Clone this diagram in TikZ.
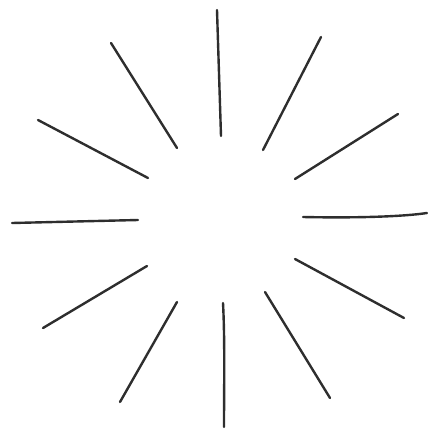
\documentclass[tikz,border=0pt]{standalone}
\begin{document}
\begin{tikzpicture}[x=1pt,y=-1pt,
  ray/.style={draw=black!82, line width=2.4pt, line cap=round}]
\useasboundingbox (0,0) rectangle (428,437);
% ray endpoints
\coordinate (a1) at (217,10);  \coordinate (b1) at (221,136);
\coordinate (a2) at (321,37);  \coordinate (b2) at (263,150);
\coordinate (a3) at (398,114); \coordinate (b3) at (295,179);
\coordinate (a4) at (303,217); \coordinate (b4) at (427,213);
\coordinate (a5) at (295,259); \coordinate (b5) at (404,318);
\coordinate (a6) at (265,292); \coordinate (b6) at (330,398);
\coordinate (a7) at (223,303); \coordinate (b7) at (224,427);
\coordinate (a8) at (177,302); \coordinate (b8) at (120,402);
\coordinate (a9) at (147,266); \coordinate (b9) at (43,328);
\coordinate (a10) at (12,223); \coordinate (b10) at (138,220);
\coordinate (a11) at (38,120); \coordinate (b11) at (148,178);
\coordinate (a12) at (111,43); \coordinate (b12) at (177,148);
\draw[ray] (a1) -- (b1);
\draw[ray] (a2) -- (b2);
\draw[ray] (a3) -- (b3);
\draw[ray] (a4) .. controls (350,218) and (400,217) .. (b4);
\draw[ray] (a5) -- (b5);
\draw[ray] (a6) -- (b6);
\draw[ray] (a7) .. controls (225,340) and (224,390) .. (b7);
\draw[ray] (a8) -- (b8);
\draw[ray] (a9) -- (b9);
\draw[ray] (a10) -- (b10);
\draw[ray] (a11) -- (b11);
\draw[ray] (a12) -- (b12);
\end{tikzpicture}
\end{document}
